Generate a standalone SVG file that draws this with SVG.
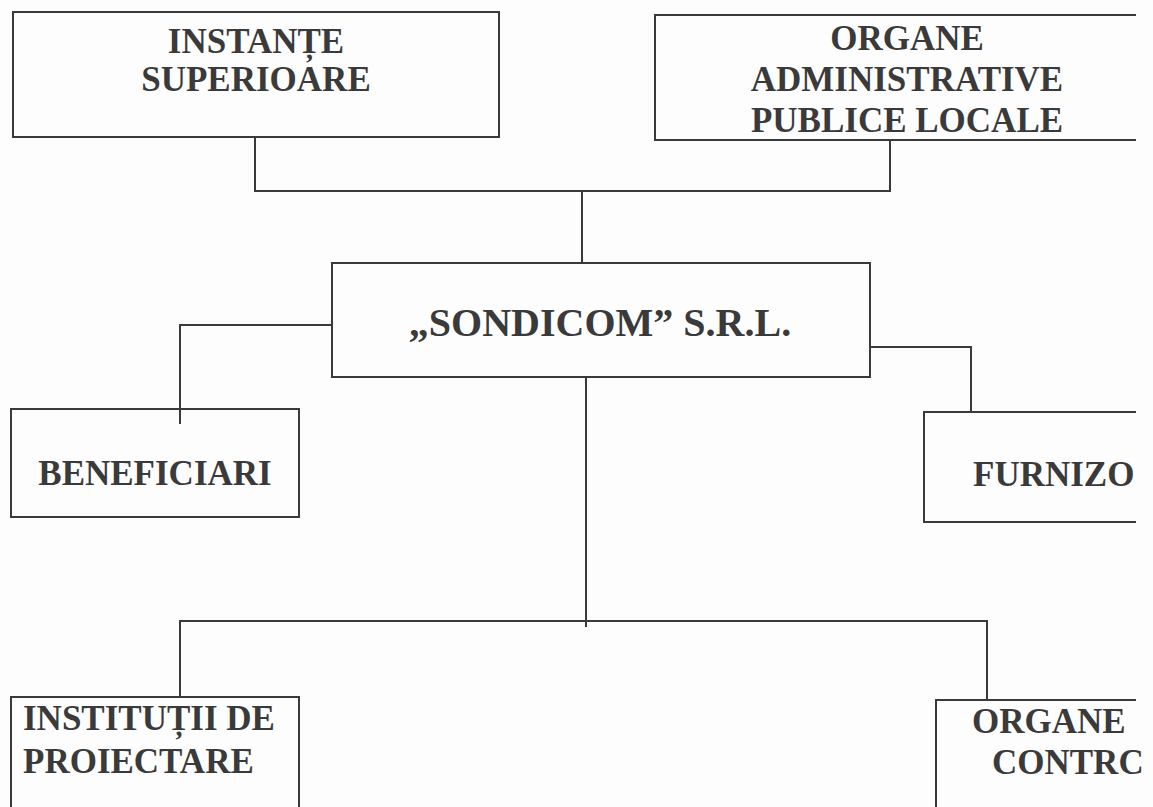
<svg xmlns="http://www.w3.org/2000/svg" width="1153" height="807" viewBox="0 0 1153 807">
<style>
.box{fill:none;stroke:#3a3a3a;stroke-width:2}
.con{fill:none;stroke:#3a3a3a;stroke-width:2}
.t{font-family:"Liberation Serif","Times New Roman",serif;font-weight:bold;font-size:35px;fill:#3a3a3a}
.big{font-size:40px}
.m{text-anchor:middle}
</style>
<rect width="1153" height="807" fill="#fdfdfd"/>
<g id="connectors">
<polyline class="con" points="255,137 255,191 890,191 890,140"/>
<line class="con" x1="582" y1="191" x2="582" y2="263"/>
<polyline class="con" points="332,325 180,325 180,424"/>
<polyline class="con" points="870,347 971,347 971,412"/>
<line class="con" x1="586" y1="377" x2="586" y2="627"/>
<polyline class="con" points="180,697 180,621 987,621 987,700"/>
</g>
<g id="instante-superioare">
<rect class="box" x="13" y="12" width="486" height="125"/>
<text class="t m" x="256" y="53">INSTANȚE</text>
<text class="t m" x="256" y="91">SUPERIOARE</text>
</g>
<g id="organe-administrative">
<polyline class="box" points="1136,15 655,15 655,140 1136,140"/>
<text class="t m" x="907" y="50">ORGANE</text>
<text class="t m" x="907" y="91">ADMINISTRATIVE</text>
<text class="t m" x="907" y="132">PUBLICE LOCALE</text>
</g>
<g id="sondicom">
<rect class="box" x="332" y="263" width="538" height="114"/>
<text class="t big m" x="600" y="336">„SONDICOM” S.R.L.</text>
</g>
<g id="beneficiari">
<rect class="box" x="11" y="409" width="288" height="108"/>
<text class="t m" x="155" y="485">BENEFICIARI</text>
</g>
<g id="furnizori">
<polyline class="box" points="1136,412 924,412 924,522 1136,522"/>
<text class="t" x="973" y="486">FURNIZO</text>
</g>
<g id="institutii-proiectare">
<polyline class="box" points="11,807 11,697 299,697 299,807"/>
<text class="t" x="23" y="730">INSTITUȚII DE</text>
<text class="t" x="23" y="773">PROIECTARE</text>
</g>
<g id="organe-control">
<polyline class="box" points="936,807 936,700 1136,700"/>
<text class="t" x="972" y="733">ORGANE</text>
<text class="t" x="992" y="774">CONTRC</text>
</g>
</svg>
